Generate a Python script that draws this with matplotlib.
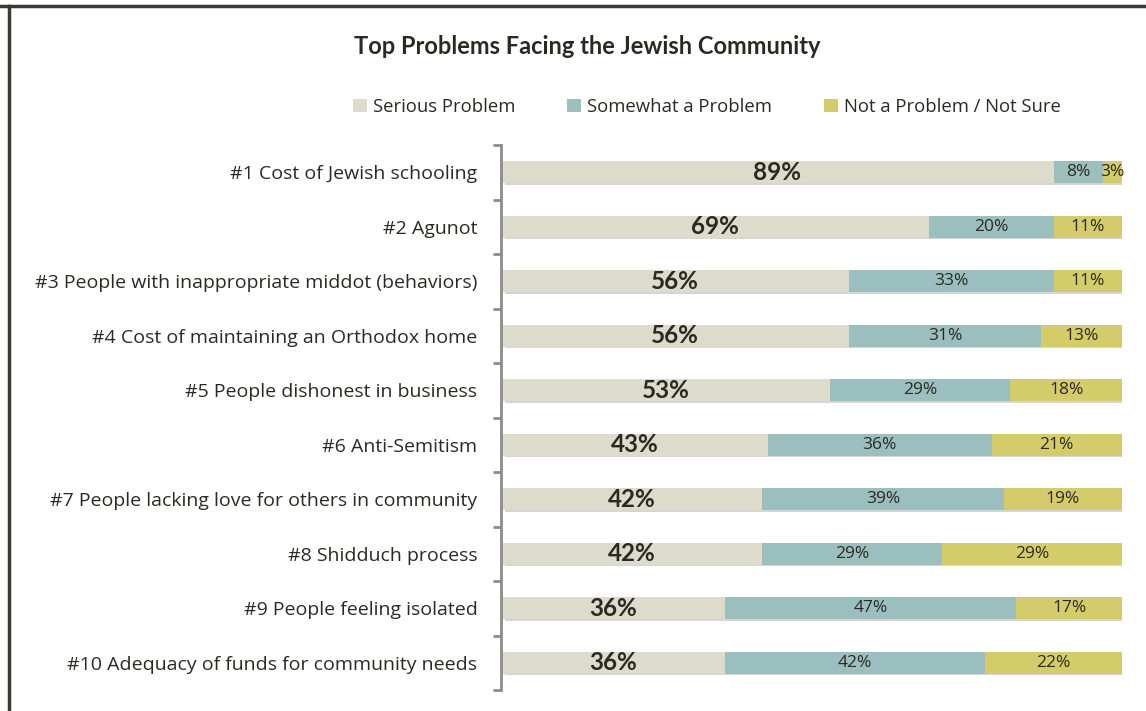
import matplotlib
matplotlib.use("Agg")
import matplotlib.pyplot as plt
import matplotlib.patheffects as pe
from matplotlib.patches import Patch
from matplotlib.lines import Line2D

plt.rcParams['font.family'] = ['Open Sans', 'DejaVu Sans']

# data
categories = [
    "#1 Cost of Jewish schooling",
    "#2 Agunot",
    "#3 People with inappropriate middot (behaviors)",
    "#4 Cost of maintaining an Orthodox home",
    "#5 People dishonest in business",
    "#6 Anti-Semitism",
    "#7 People lacking love for others in community",
    "#8 Shidduch process",
    "#9 People feeling isolated",
    "#10 Adequacy of funds for community needs",
]
serious = [89, 69, 56, 56, 53, 43, 42, 42, 36, 36]
somewhat = [8, 20, 33, 31, 29, 36, 39, 29, 47, 42]
not_problem = [3, 11, 11, 13, 18, 21, 19, 29, 17, 22]
series_names = ["Serious Problem", "Somewhat a Problem", "Not a Problem / Not Sure"]
colors = ["#DDDBCB", "#9BBEBE", "#D4CC6A"]
text_color = "#2B2A22"

W, H = 1146, 711
fig = plt.figure(figsize=(W / 100, H / 100), dpi=100)

ax = fig.add_axes([501 / W, 1 - 690 / H, (1122 - 501) / W, (690 - 145) / H])
ax.set_xlim(0, 100)
ax.set_ylim(len(categories) - 0.5, -0.5)

ypos = list(range(len(categories)))
shadow = [pe.SimplePatchShadow(offset=(3, -1), alpha=0.22, shadow_rgbFace="#444444"), pe.Normal()]

left = [0] * len(categories)
for vals, col, name in zip([serious, somewhat, not_problem], colors, series_names):
    bars = ax.barh(ypos, vals, left=left, height=0.41, color=col, edgecolor="none", label=name)
    for b in bars:
        b.set_path_effects(shadow)
    for y, v, l in zip(ypos, vals, left):
        if name == "Serious Problem":
            ax.text(l + v / 2, y, f"{v}%", ha="center", va="center", fontsize=17.5,
                    fontweight="bold", color=text_color, family=["Lato", "DejaVu Sans"])
        else:
            ax.text(l + v / 2, y, f"{v}%", ha="center", va="center", fontsize=12.5,
                    color=text_color)
    left = [a + b for a, b in zip(left, vals)]

# axis styling
for s in ["top", "right", "bottom"]:
    ax.spines[s].set_visible(False)
ax.spines["left"].set_color("#8C8C8C")
ax.spines["left"].set_linewidth(2)
ax.set_xticks([])
ax.set_yticks(ypos)
ax.set_yticklabels(categories, fontsize=14, color=text_color)
ax.tick_params(axis="y", which="major", length=0, pad=17)
ax.set_yticks([i - 0.5 for i in range(len(categories) + 1)], minor=True)
ax.tick_params(axis="y", which="minor", length=6, width=2, color="#8C8C8C")

fig.text(587 / W, 1 - 47 / H, "Top Problems Facing the Jewish Community", ha="center",
         va="center", fontsize=17, fontweight="bold", color=text_color,
         family=["Lato", "DejaVu Sans"])

handles = [Patch(facecolor=c, edgecolor="none") for c in colors]
fig.legend(handles, series_names, loc="center", bbox_to_anchor=(707 / W, 1 - 107 / H), ncol=3,
           frameon=False, fontsize=13.3, handlelength=0.75, handleheight=0.75, handletextpad=0.35,
           columnspacing=2.8, labelcolor=text_color)

# chart border (top and left)
fig.add_artist(Line2D([0, 1], [1 - 6 / H, 1 - 6 / H], transform=fig.transFigure, color="#3A3A32", lw=2.5))
fig.add_artist(Line2D([9 / W, 9 / W], [0, 1 - 6 / H], transform=fig.transFigure, color="#3A3A32", lw=2.5))

fig.savefig("out.png", dpi=100)
